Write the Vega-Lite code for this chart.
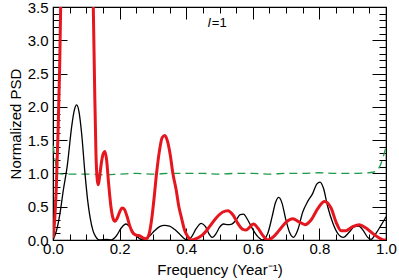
{
  "$schema": "https://vega.github.io/schema/vega-lite/v6.json",
  "width": 333,
  "height": 233,
  "autosize": {"type": "none"},
  "padding": {"left": 53, "right": 13, "top": 7, "bottom": 40},
  "background": "white",
  "config": {"view": {"stroke": "black", "strokeWidth": 1.2}, "font": "Liberation Sans"},
  "datasets": {
    "black": [
      {"f": 0.0, "v": 0.0}, {"f": 0.011, "v": 0.15}, {"f": 0.021, "v": 0.4}, {"f": 0.031, "v": 0.75},
      {"f": 0.043, "v": 1.12}, {"f": 0.056, "v": 1.7}, {"f": 0.064, "v": 1.95}, {"f": 0.071, "v": 2.03},
      {"f": 0.078, "v": 1.93}, {"f": 0.086, "v": 1.6}, {"f": 0.096, "v": 1.0}, {"f": 0.104, "v": 0.6},
      {"f": 0.111, "v": 0.35}, {"f": 0.12, "v": 0.14}, {"f": 0.128, "v": 0.05}, {"f": 0.14, "v": 0.0},
      {"f": 0.16, "v": 0.01}, {"f": 0.175, "v": 0.0}, {"f": 0.19, "v": 0.06}, {"f": 0.205, "v": 0.18},
      {"f": 0.219, "v": 0.24}, {"f": 0.232, "v": 0.19}, {"f": 0.245, "v": 0.09}, {"f": 0.26, "v": 0.02},
      {"f": 0.275, "v": 0.0}, {"f": 0.29, "v": 0.06}, {"f": 0.305, "v": 0.14}, {"f": 0.32, "v": 0.2},
      {"f": 0.335, "v": 0.22}, {"f": 0.35, "v": 0.21}, {"f": 0.365, "v": 0.16}, {"f": 0.38, "v": 0.09},
      {"f": 0.392, "v": 0.03}, {"f": 0.402, "v": 0.0}, {"f": 0.415, "v": 0.04}, {"f": 0.43, "v": 0.17},
      {"f": 0.445, "v": 0.25}, {"f": 0.458, "v": 0.2}, {"f": 0.47, "v": 0.08}, {"f": 0.478, "v": 0.04},
      {"f": 0.49, "v": 0.1}, {"f": 0.5, "v": 0.19}, {"f": 0.512, "v": 0.24}, {"f": 0.525, "v": 0.23},
      {"f": 0.537, "v": 0.24}, {"f": 0.55, "v": 0.3}, {"f": 0.562, "v": 0.38}, {"f": 0.572, "v": 0.39},
      {"f": 0.585, "v": 0.3}, {"f": 0.6, "v": 0.16}, {"f": 0.615, "v": 0.05}, {"f": 0.63, "v": 0.0},
      {"f": 0.645, "v": 0.1}, {"f": 0.658, "v": 0.35}, {"f": 0.668, "v": 0.56}, {"f": 0.678, "v": 0.64},
      {"f": 0.688, "v": 0.55}, {"f": 0.698, "v": 0.33}, {"f": 0.71, "v": 0.12}, {"f": 0.722, "v": 0.04},
      {"f": 0.735, "v": 0.15}, {"f": 0.75, "v": 0.42}, {"f": 0.765, "v": 0.58}, {"f": 0.78, "v": 0.7},
      {"f": 0.792, "v": 0.84}, {"f": 0.802, "v": 0.87}, {"f": 0.812, "v": 0.78}, {"f": 0.825, "v": 0.5},
      {"f": 0.84, "v": 0.26}, {"f": 0.855, "v": 0.1}, {"f": 0.872, "v": 0.04}, {"f": 0.89, "v": 0.12},
      {"f": 0.905, "v": 0.2}, {"f": 0.918, "v": 0.21}, {"f": 0.932, "v": 0.14}, {"f": 0.945, "v": 0.04},
      {"f": 0.955, "v": 0.01}, {"f": 0.97, "v": 0.1}, {"f": 0.985, "v": 0.22}, {"f": 1.0, "v": 0.35}
    ],
    "red": [
      {"f": 0.0, "v": 0.03}, {"f": 0.005, "v": 0.3}, {"f": 0.01, "v": 0.8}, {"f": 0.015, "v": 1.6},
      {"f": 0.02, "v": 2.6}, {"f": 0.023, "v": 3.5}, {"f": 0.03, "v": 5.0}, {"f": 0.05, "v": 7.0},
      {"f": 0.07, "v": 7.5}, {"f": 0.09, "v": 7.0}, {"f": 0.11, "v": 5.0}, {"f": 0.121, "v": 3.5},
      {"f": 0.125, "v": 2.3}, {"f": 0.129, "v": 1.3}, {"f": 0.133, "v": 0.9}, {"f": 0.136, "v": 0.83},
      {"f": 0.14, "v": 0.95}, {"f": 0.145, "v": 1.15}, {"f": 0.151, "v": 1.3}, {"f": 0.156, "v": 1.33},
      {"f": 0.161, "v": 1.2}, {"f": 0.167, "v": 0.85}, {"f": 0.174, "v": 0.5}, {"f": 0.18, "v": 0.33},
      {"f": 0.186, "v": 0.28}, {"f": 0.193, "v": 0.33}, {"f": 0.2, "v": 0.42}, {"f": 0.207, "v": 0.48},
      {"f": 0.213, "v": 0.47}, {"f": 0.222, "v": 0.36}, {"f": 0.23, "v": 0.22}, {"f": 0.238, "v": 0.12},
      {"f": 0.246, "v": 0.08}, {"f": 0.254, "v": 0.07}, {"f": 0.262, "v": 0.06}, {"f": 0.27, "v": 0.03},
      {"f": 0.28, "v": 0.02}, {"f": 0.288, "v": 0.08}, {"f": 0.296, "v": 0.3}, {"f": 0.304, "v": 0.65},
      {"f": 0.311, "v": 1.0}, {"f": 0.32, "v": 1.35}, {"f": 0.328, "v": 1.54}, {"f": 0.336, "v": 1.57},
      {"f": 0.344, "v": 1.48}, {"f": 0.352, "v": 1.28}, {"f": 0.36, "v": 1.0}, {"f": 0.37, "v": 0.75},
      {"f": 0.378, "v": 0.5}, {"f": 0.386, "v": 0.33}, {"f": 0.395, "v": 0.15}, {"f": 0.405, "v": 0.05},
      {"f": 0.415, "v": 0.0}, {"f": 0.43, "v": 0.02}, {"f": 0.45, "v": 0.08}, {"f": 0.47, "v": 0.2},
      {"f": 0.49, "v": 0.33}, {"f": 0.51, "v": 0.42}, {"f": 0.525, "v": 0.44}, {"f": 0.54, "v": 0.38},
      {"f": 0.555, "v": 0.25}, {"f": 0.57, "v": 0.16}, {"f": 0.58, "v": 0.15}, {"f": 0.59, "v": 0.19},
      {"f": 0.602, "v": 0.24}, {"f": 0.615, "v": 0.18}, {"f": 0.63, "v": 0.07}, {"f": 0.645, "v": 0.0},
      {"f": 0.66, "v": 0.04}, {"f": 0.68, "v": 0.15}, {"f": 0.7, "v": 0.27}, {"f": 0.72, "v": 0.32},
      {"f": 0.74, "v": 0.27}, {"f": 0.757, "v": 0.23}, {"f": 0.775, "v": 0.3}, {"f": 0.795, "v": 0.47},
      {"f": 0.815, "v": 0.58}, {"f": 0.835, "v": 0.48}, {"f": 0.85, "v": 0.27}, {"f": 0.865, "v": 0.14},
      {"f": 0.88, "v": 0.14}, {"f": 0.9, "v": 0.2}, {"f": 0.92, "v": 0.23}, {"f": 0.94, "v": 0.18},
      {"f": 0.96, "v": 0.1}, {"f": 0.98, "v": 0.03}, {"f": 0.995, "v": 0.0}, {"f": 1.0, "v": 0.0}
    ],
    "green": [
      {"f": 0.0, "v": 1.42}, {"f": 0.005, "v": 1.25}, {"f": 0.01, "v": 1.08}, {"f": 0.015, "v": 1.0},
      {"f": 0.03, "v": 0.99}, {"f": 0.06, "v": 0.99}, {"f": 0.1, "v": 0.99}, {"f": 0.15, "v": 0.98},
      {"f": 0.2, "v": 0.99}, {"f": 0.25, "v": 1.0}, {"f": 0.3, "v": 0.99}, {"f": 0.35, "v": 1.0},
      {"f": 0.4, "v": 1.0}, {"f": 0.45, "v": 1.0}, {"f": 0.5, "v": 0.99}, {"f": 0.55, "v": 1.0},
      {"f": 0.6, "v": 1.0}, {"f": 0.65, "v": 0.99}, {"f": 0.7, "v": 1.0}, {"f": 0.75, "v": 1.0},
      {"f": 0.8, "v": 1.01}, {"f": 0.85, "v": 1.0}, {"f": 0.9, "v": 1.0}, {"f": 0.95, "v": 1.01},
      {"f": 0.97, "v": 1.03}, {"f": 0.985, "v": 1.15}, {"f": 1.0, "v": 1.4}
    ]
  },
  "layer": [
    {
      "data": {"name": "green"},
      "mark": {"type": "line", "color": "#1f9a48", "strokeWidth": 1.3, "strokeDash": [8, 5], "interpolate": "monotone", "clip": true},
      "encoding": {
        "x": {"field": "f", "type": "quantitative", "scale": {"domain": [0, 1], "nice": false, "zero": false},
          "axis": {"orient": "bottom",
            "values": [0, 0.05, 0.1, 0.15, 0.2, 0.25, 0.3, 0.35, 0.4, 0.45, 0.5, 0.55, 0.6, 0.65, 0.7, 0.75, 0.8, 0.85, 0.9, 0.95, 1.0],
            "tickSize": {"condition": {"test": "abs(datum.value*5-round(datum.value*5))<1e-6", "value": -12}, "value": -6},
            "labelExpr": "abs(datum.value*5-round(datum.value*5))<1e-6 ? format(datum.value,'.1f') : ''",
            "labelOverlap": false, "labelFlush": false, "labelPadding": 13,
            "labelFont": "Liberation Sans", "labelFontSize": 15, "labelColor": "black",
            "tickColor": "black", "domainColor": "black", "grid": false,
            "title": "Frequency (Year⁻¹)", "titleFont": "Liberation Sans", "titleFontSize": 15, "titleFontWeight": "normal", "titleColor": "black", "titlePadding": 0}},
        "y": {"field": "v", "type": "quantitative", "scale": {"domain": [0, 3.5], "nice": false, "zero": false},
          "axis": {"orient": "left",
            "values": [0, 0.1, 0.2, 0.3, 0.4, 0.5, 0.6, 0.7, 0.8, 0.9, 1.0, 1.1, 1.2, 1.3, 1.4, 1.5, 1.6, 1.7, 1.8, 1.9, 2.0, 2.1, 2.2, 2.3, 2.4, 2.5, 2.6, 2.7, 2.8, 2.9, 3.0, 3.1, 3.2, 3.3, 3.4, 3.5],
            "tickSize": {"condition": {"test": "abs(datum.value*2-round(datum.value*2))<1e-6", "value": -14}, "value": -7},
            "labelExpr": "abs(datum.value*2-round(datum.value*2))<1e-6 ? format(datum.value,'.1f') : ''",
            "labelOverlap": false, "labelFlush": false, "labelPadding": 19,
            "labelFont": "Liberation Sans", "labelFontSize": 15, "labelColor": "black",
            "tickColor": "black", "domainColor": "black", "grid": false,
            "title": "Normalized PSD", "titleFont": "Liberation Sans", "titleFontSize": 15, "titleFontWeight": "normal", "titleColor": "black", "titlePadding": 4}}
      }
    },
    {
      "data": {"name": "black"},
      "mark": {"type": "line", "color": "black", "strokeWidth": 1.3, "interpolate": "monotone", "clip": true},
      "encoding": {
        "x": {"field": "f", "type": "quantitative",
          "axis": {"orient": "top",
            "values": [0, 0.05, 0.1, 0.15, 0.2, 0.25, 0.3, 0.35, 0.4, 0.45, 0.5, 0.55, 0.6, 0.65, 0.7, 0.75, 0.8, 0.85, 0.9, 0.95, 1.0],
            "tickSize": {"condition": {"test": "abs(datum.value*5-round(datum.value*5))<1e-6", "value": -12}, "value": -6},
            "labels": false, "title": null, "tickColor": "black", "domainColor": "black", "grid": false}},
        "y": {"field": "v", "type": "quantitative",
          "axis": {"orient": "right",
            "values": [0, 0.1, 0.2, 0.3, 0.4, 0.5, 0.6, 0.7, 0.8, 0.9, 1.0, 1.1, 1.2, 1.3, 1.4, 1.5, 1.6, 1.7, 1.8, 1.9, 2.0, 2.1, 2.2, 2.3, 2.4, 2.5, 2.6, 2.7, 2.8, 2.9, 3.0, 3.1, 3.2, 3.3, 3.4, 3.5],
            "tickSize": {"condition": {"test": "abs(datum.value*2-round(datum.value*2))<1e-6", "value": -14}, "value": -7},
            "labels": false, "title": null, "tickColor": "black", "domainColor": "black", "grid": false}}
      }
    },
    {
      "data": {"name": "red"},
      "mark": {"type": "line", "color": "#e5161e", "strokeWidth": 3, "interpolate": "monotone", "clip": true},
      "encoding": {
        "x": {"field": "f", "type": "quantitative", "axis": null},
        "y": {"field": "v", "type": "quantitative", "axis": null}
      }
    },
    {
      "data": {"values": [{"t": "l"}]},
      "mark": {"type": "text", "font": "Liberation Sans", "fontSize": 13, "fontStyle": "italic", "color": "black", "align": "left", "baseline": "alphabetic"},
      "encoding": {
        "x": {"datum": 0.465, "type": "quantitative", "axis": null},
        "y": {"datum": 3.2, "type": "quantitative", "axis": null},
        "text": {"field": "t"}
      }
    },
    {
      "data": {"values": [{"t": "=1"}]},
      "mark": {"type": "text", "font": "Liberation Sans", "fontSize": 13, "color": "black", "align": "left", "baseline": "alphabetic"},
      "encoding": {
        "x": {"datum": 0.477, "type": "quantitative", "axis": null},
        "y": {"datum": 3.2, "type": "quantitative", "axis": null},
        "text": {"field": "t"}
      }
    }
  ],
  "resolve": {"axis": {"x": "independent", "y": "independent"}}
}
